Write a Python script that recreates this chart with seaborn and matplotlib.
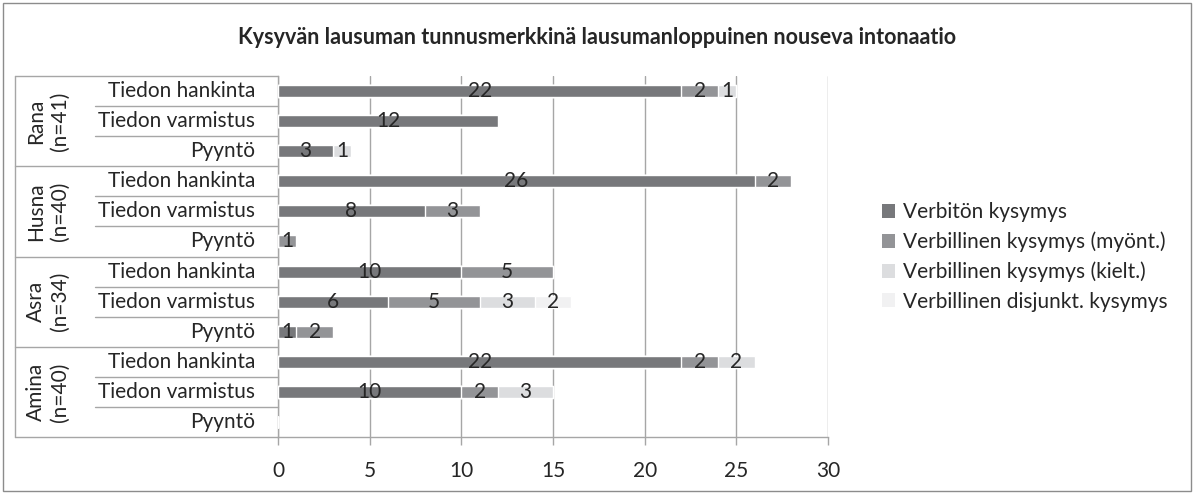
import numpy as np
import pandas as pd
import seaborn as sns
import matplotlib.pyplot as plt
from matplotlib.patches import Patch, Rectangle

# Data
speakers = ['Rana\n(n=41)', 'Husna\n(n=40)', 'Asra\n(n=34)', 'Amina\n(n=40)']
functions = ['Tiedon hankinta', 'Tiedon varmistus', 'Pyyntö']
series = ['Verbitön kysymys', 'Verbillinen kysymys (myönt.)',
          'Verbillinen kysymys (kielt.)', 'Verbillinen disjunkt. kysymys']
verbiton = [22, 12, 3, 26, 8, 0, 10, 6, 1, 22, 10, 0]
myont = [2, 0, 0, 2, 3, 1, 5, 5, 2, 2, 2, 0]
kielt = [1, 0, 1, 0, 0, 0, 0, 3, 0, 2, 3, 0]
disjunkt = [0, 0, 0, 0, 0, 0, 0, 2, 0, 0, 0, 0]
colors = ['#77787b', '#939497', '#dcdddf', '#f1f1f2']

rows = [f'{s}|{f}' for s in speakers for f in functions]
df = pd.DataFrame({'row': rows, series[0]: verbiton, series[1]: myont,
                   series[2]: kielt, series[3]: disjunkt})
cum = df[series].cumsum(axis=1)

sns.set_theme(style='white')
plt.rcParams['font.family'] = ['Lato', 'DejaVu Sans']
fs = 15
line_c = '#a6a6a6'

fig = plt.figure(figsize=(11.94, 4.94), dpi=100)
W, H = 1194, 494
x0, x1, y0, y1 = 278, 828, 76, 437
ax = fig.add_axes([x0 / W, 1 - y1 / H, (x1 - x0) / W, (y1 - y0) / H])

# stacked bars: draw cumulative totals from the largest down
for i in range(len(series) - 1, -1, -1):
    sns.barplot(x=cum[series[i]], y=df['row'], orient='h', color=colors[i],
                width=0.4, saturation=1, ax=ax, zorder=3)

# data labels
for i, s in enumerate(series):
    left = cum[s] - df[s]
    for r in range(len(df)):
        v = df[s].iloc[r]
        if v > 0:
            ax.text(left.iloc[r] + v / 2, r, str(v), ha='center', va='center',
                    fontsize=fs, color='#262626', zorder=5)

ax.set_xlim(0, 30)
ax.set_ylim(len(rows) - 0.5, -0.5)
ax.set_xticks(range(0, 31, 5))
ax.set_yticks([])
ax.set_xlabel('')
ax.set_ylabel('')
ax.xaxis.grid(True, color=line_c, lw=1, zorder=0)
ax.tick_params(axis='x', length=6, width=1, color=line_c, labelsize=fs,
               labelcolor='#262626', pad=11, bottom=True)
for sp in ['top', 'right']:
    ax.spines[sp].set_visible(False)
for sp in ['left', 'bottom']:
    ax.spines[sp].set_color(line_c)
    ax.spines[sp].set_linewidth(1)

# category labels and separator lines
tr = ax.get_yaxis_transform()
ax_w = x1 - x0
xg = (15 - x0) / ax_w
xs = (95 - x0) / ax_w
for r in range(len(rows)):
    ax.text((255 - x0) / ax_w, r, rows[r].split('|')[1], ha='right', va='center',
            fontsize=fs, color='#262626', transform=tr)
for k in range(len(rows) + 1):
    yb = k - 0.5
    xl = xg if k % 3 == 0 else xs
    ax.plot([xl, 0], [yb, yb], color=line_c, lw=1, transform=tr, clip_on=False)
ax.plot([xg, xg], [-0.5, len(rows) - 0.5], color=line_c, lw=1, transform=tr,
        clip_on=False)
for g, s in enumerate(speakers):
    ax.text((48 - x0) / ax_w, g * 3 + 1, s, rotation=90, ha='center', va='center',
            multialignment='center', fontsize=fs, color='#262626', transform=tr,
            linespacing=1.25)

fig.suptitle('Kysyvän lausuman tunnusmerkkinä lausumanloppuinen nouseva intonaatio',
             x=0.5, y=1 - 37 / H, va='center', fontsize=15.5, fontweight='bold',
             color='#262626')

handles = [Patch(facecolor=c, edgecolor='none') for c in colors]
fig.legend(handles, series, loc='center left', bbox_to_anchor=(863 / W, 1 - 257 / H),
           frameon=False, fontsize=fs, handlelength=0.65, handleheight=0.65,
           handletextpad=0.35, labelspacing=0.45, labelcolor='#262626')

fig.patches.append(Rectangle((3 / W, 3 / H), 1 - 6 / W, 1 - 6 / H, fill=False,
                             edgecolor='#8c8c8c', lw=1, transform=fig.transFigure))

fig.savefig('out.png', dpi=100)
